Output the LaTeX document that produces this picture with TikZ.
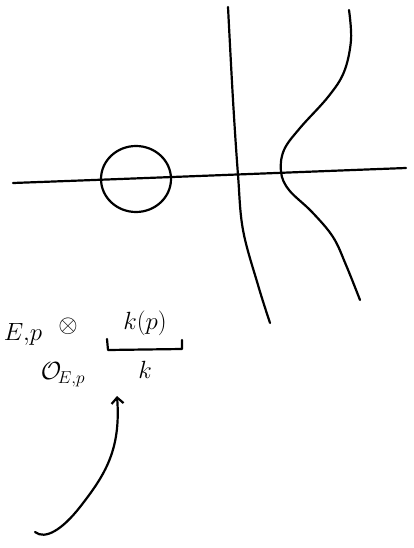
\documentclass[tikz,border=0pt]{standalone}
\usetikzlibrary{arrows.meta}
\begin{document}
\begin{tikzpicture}[x=1pt,y=-1pt,
  stroke/.style={line width=2.2pt,line cap=round,line join=round},
  lbl/.style={inner sep=0pt,font=\fontsize{26}{30}\selectfont}]
\useasboundingbox (0,0) rectangle (414,548);
% horizontal axis
\draw[stroke] (13,183) .. controls (150,178) and (300,172) .. (406,168);
% oval
\draw[stroke] (136,179) ellipse [x radius=35, y radius=33];
% vertical line
\draw[stroke] plot[smooth,tension=0.6] coordinates {(228,7) (233,100) (238,175) (243,230) (258,285) (270,323)};
% right curve
\draw[stroke] plot[smooth,tension=0.6] coordinates {(349,10) (351,40) (344,72) (328,97) (300,128) (284,150) (281,172) (289,190) (312,212) (333,237) (346,265) (360,300)};
% text
\node[lbl] (ep) at (23,334) {$E,\!p$};
\node[lbl,font=\fontsize{28}{32}\selectfont] (ot) at (68,326) {$\otimes$};
\node[lbl,font=\fontsize{28}{32}\selectfont] (kp) at (145,323) {$k(p)$};
\node[lbl] (oep) at (63,375) {$\mathcal{O}_{\!E,p}$};
\node[lbl,font=\fontsize{28}{32}\selectfont] (k) at (145,370) {$k$};
% bracket
\draw[stroke] (107,339) -- (108,350) -- (182,349) -- (182,340);
% arrow
\coordinate (s) at (35,532);
\coordinate (t) at (117,396);
\draw[stroke,-{Straight Barb[length=6pt,width=12pt]}] (s) .. controls (45,540) and (62,530) .. (80,507) .. controls (105,475) and (121,450) .. (t);
\end{tikzpicture}
\end{document}
